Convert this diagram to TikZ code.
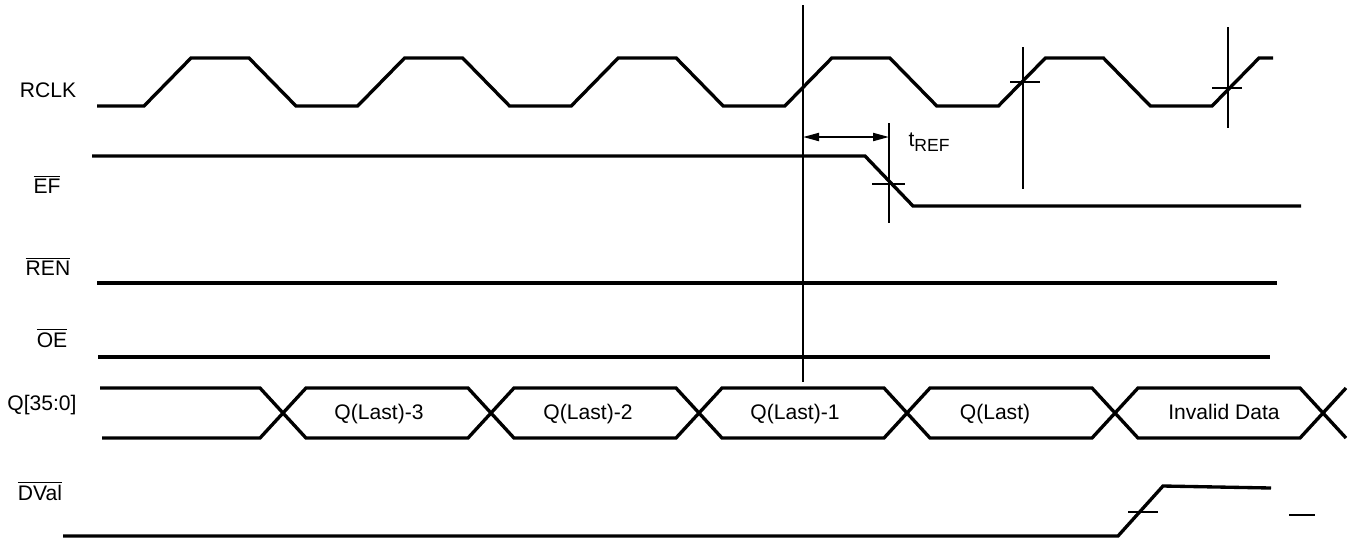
\documentclass[tikz,border=0pt]{standalone}
\usepackage{fontspec}
\setmainfont{Liberation Sans}
\usetikzlibrary{arrows.meta}

\begin{document}
\begin{tikzpicture}[x=0.02cm, y=-0.02cm, every node/.style={font=\large, anchor=base, inner sep=0pt},
    wave/.style={line width=1.9pt, line join=miter},
    thinline/.style={line width=1.1pt}]
\useasboundingbox (0,0) rectangle (1356,539);
% signal names
\node (rclk) at (48,97) {RCLK};
\node (ef) at (47,193) {$\overline{\mbox{EF}}$};
\node (ren) at (48,275) {$\overline{\mbox{REN}}$};
\node (oe) at (52,347) {$\overline{\mbox{OE}}$};
\node (qbus) at (42,410) {Q[35:0]};
\node (dval) at (40,500) {$\overline{\mbox{DVal}}$};
% read clock
\draw[wave] (97,106) \foreach \k in {0,...,4} {
    -- ({144+213.6*\k},106) -- ({191+213.6*\k},58) -- ({249+213.6*\k},58) -- ({296+213.6*\k},106)
} -- (1212,106) -- (1259,58) -- (1273,58);
% empty flag
\draw[wave] (92,156) -- (865,156) -- (913,206) -- (1301,206);
% enables
\draw[wave] (97,283) -- (1277,283);
\draw[wave] (98,357) -- (1270,357);
% data bus
\draw[wave] (100,388) -- (260,388) -- (283,413) -- (260,438) -- (102,438);
\foreach \c in {283,491,699,907,1115} {
    \draw[wave] (\c,413) -- (\c+23,388) -- (\c+185,388) -- (\c+208,413) -- (\c+185,438) -- (\c+23,438) -- cycle;
}
\draw[wave] (1346,388) -- (1323,413) -- (1346,438);
\foreach \x/\t [count=\i] in {379/Q(Last)-3, 588/Q(Last)-2, 795/Q(Last)-1, 995/Q(Last), 1224/Invalid Data} {
    \node (word\i) at (\x,419) {\t};
}
% data valid
\draw[wave] (63,536) -- (1118,536) -- (1163,486) -- (1271,488);
% reference edge and tREF
\coordinate (ref top) at (803,5);
\coordinate (ref bot) at (803,382);
\draw[thinline] (ref top) -- (ref bot);
\coordinate (efx top) at (889,123);
\coordinate (efx bot) at (889,223);
\draw[thinline] (efx top) -- (efx bot);
\draw[thinline] (872,184) -- (905,184);
\coordinate (tref a) at (803,137);
\coordinate (tref b) at (889,137);
\draw[thinline, {Triangle[length=0.32cm,width=0.16cm]}-{Triangle[length=0.32cm,width=0.16cm]}] (tref a) -- (tref b);
\node (tref) at (929,146) {t\raisebox{-0.45ex}{\normalsize REF}};
% clock crossing marks
\draw[thinline] (1023,47) -- (1023,189);
\draw[thinline] (1010,82) -- (1040,82);
\draw[thinline] (1228,27) -- (1228,128);
\draw[thinline] (1212,88) -- (1242,88);
% dval crossing marks
\draw[thinline] (1128,512) -- (1158,512);
\draw[thinline] (1289,515) -- (1315,515);
\end{tikzpicture}
\end{document}
